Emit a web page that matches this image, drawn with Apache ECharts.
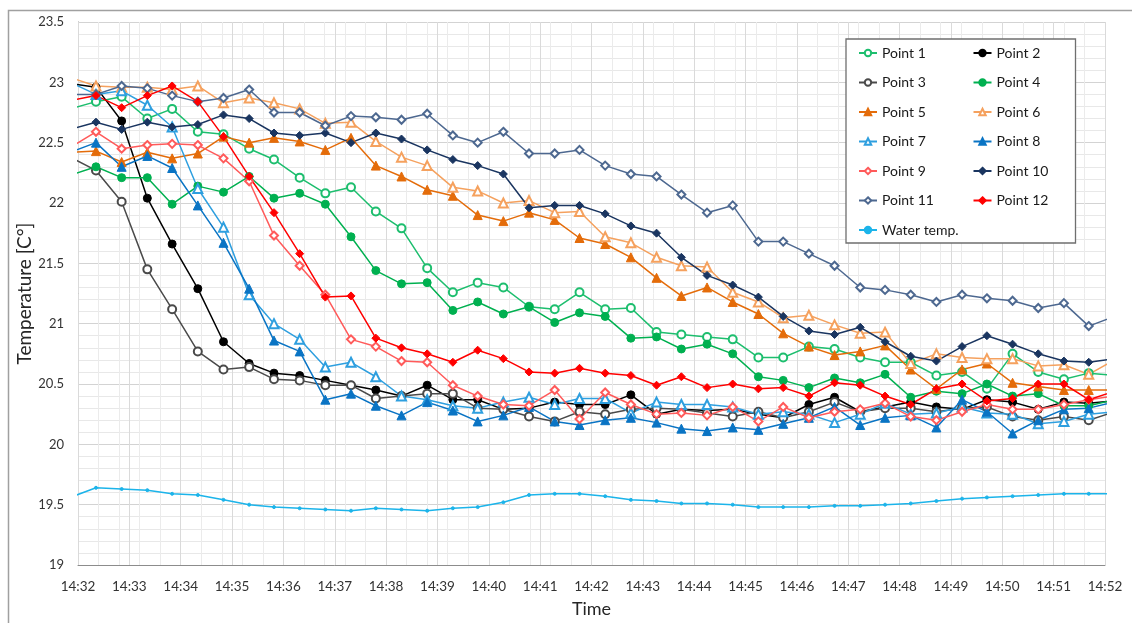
<!DOCTYPE html>
<html><head><meta charset="utf-8">
<script src="https://cdn.jsdelivr.net/npm/echarts@6/dist/echarts.min.js"></script>
<style>html,body{margin:0;padding:0;background:#fff}#c{width:1132px;height:623px}</style>
</head><body><div id="c"></div>
<script>
// sample times, seconds after 14:32:00 (first and last samples lie just outside the visible window)
const sampleSeconds = [-9, 21, 51, 81, 110, 140, 170, 200, 229, 259, 289, 319, 348, 378, 408, 438, 467, 497, 527, 557, 586, 616, 646, 676, 705, 735, 765, 795, 824, 854, 884, 914, 943, 973, 1003, 1033, 1062, 1092, 1122, 1152, 1181, 1211];
const timeLabels = ['14:32','14:33','14:34','14:35','14:36','14:37','14:38','14:39','14:40','14:41','14:42','14:43','14:44','14:45','14:46','14:47','14:48','14:49','14:50','14:51','14:52'];

const point1 = [22.78, 22.84, 22.88, 22.70, 22.78, 22.59, 22.57, 22.45, 22.36, 22.21, 22.08, 22.13, 21.93, 21.79, 21.46, 21.26, 21.34, 21.30, 21.14, 21.12, 21.26, 21.12, 21.13, 20.93, 20.91, 20.89, 20.87, 20.72, 20.72, 20.81, 20.79, 20.72, 20.68, 20.68, 20.57, 20.60, 20.46, 20.75, 20.60, 20.54, 20.59, 20.57];
const point2 = [22.99, 22.96, 22.68, 22.04, 21.66, 21.29, 20.85, 20.67, 20.59, 20.57, 20.53, 20.49, 20.45, 20.40, 20.49, 20.37, 20.37, 20.29, 20.30, 20.35, 20.33, 20.33, 20.41, 20.25, 20.29, 20.28, 20.29, 20.25, 20.22, 20.33, 20.39, 20.27, 20.31, 20.35, 20.31, 20.29, 20.37, 20.35, 20.29, 20.35, 20.34, 20.36];
const point3 = [22.38, 22.27, 22.01, 21.45, 21.12, 20.77, 20.62, 20.64, 20.54, 20.53, 20.49, 20.49, 20.38, 20.40, 20.42, 20.42, 20.30, 20.29, 20.23, 20.19, 20.27, 20.25, 20.29, 20.30, 20.29, 20.26, 20.23, 20.27, 20.22, 20.27, 20.35, 20.27, 20.30, 20.30, 20.27, 20.30, 20.31, 20.23, 20.20, 20.23, 20.20, 20.27];
const point4 = [22.23, 22.30, 22.21, 22.21, 21.99, 22.14, 22.09, 22.22, 22.04, 22.08, 21.99, 21.72, 21.44, 21.33, 21.34, 21.11, 21.18, 21.08, 21.14, 21.01, 21.09, 21.06, 20.88, 20.89, 20.79, 20.83, 20.75, 20.56, 20.53, 20.47, 20.55, 20.51, 20.58, 20.39, 20.44, 20.42, 20.50, 20.40, 20.42, 20.32, 20.32, 20.37];
const point5 = [22.42, 22.43, 22.34, 22.42, 22.37, 22.41, 22.55, 22.50, 22.54, 22.51, 22.44, 22.54, 22.31, 22.22, 22.11, 22.06, 21.90, 21.85, 21.92, 21.86, 21.71, 21.66, 21.55, 21.38, 21.23, 21.30, 21.18, 21.08, 20.92, 20.81, 20.74, 20.77, 20.82, 20.62, 20.46, 20.62, 20.67, 20.51, 20.48, 20.45, 20.45, 20.45];
const point6 = [23.04, 22.97, 22.96, 22.96, 22.94, 22.97, 22.83, 22.87, 22.83, 22.78, 22.66, 22.67, 22.51, 22.38, 22.31, 22.13, 22.10, 22.00, 22.02, 21.92, 21.93, 21.72, 21.67, 21.55, 21.48, 21.47, 21.26, 21.18, 21.05, 21.07, 20.99, 20.92, 20.93, 20.67, 20.75, 20.72, 20.71, 20.71, 20.65, 20.66, 20.58, 20.70];
const point7 = [23.00, 22.90, 22.93, 22.81, 22.63, 22.12, 21.80, 21.24, 21.00, 20.87, 20.64, 20.68, 20.56, 20.40, 20.37, 20.32, 20.30, 20.35, 20.39, 20.33, 20.38, 20.38, 20.26, 20.35, 20.33, 20.33, 20.31, 20.25, 20.27, 20.25, 20.18, 20.25, 20.34, 20.25, 20.26, 20.31, 20.26, 20.25, 20.17, 20.19, 20.25, 20.27];
const point8 = [22.42, 22.50, 22.30, 22.39, 22.29, 21.98, 21.67, 21.29, 20.86, 20.77, 20.37, 20.42, 20.32, 20.24, 20.35, 20.28, 20.19, 20.24, 20.31, 20.19, 20.16, 20.20, 20.22, 20.18, 20.13, 20.11, 20.14, 20.12, 20.17, 20.22, 20.31, 20.16, 20.22, 20.24, 20.14, 20.37, 20.27, 20.09, 20.20, 20.29, 20.30, 20.35];
const point9 = [22.46, 22.59, 22.45, 22.48, 22.49, 22.48, 22.37, 22.18, 21.73, 21.48, 21.24, 20.87, 20.81, 20.69, 20.68, 20.49, 20.40, 20.33, 20.32, 20.45, 20.21, 20.43, 20.33, 20.25, 20.26, 20.24, 20.31, 20.19, 20.31, 20.22, 20.27, 20.29, 20.34, 20.23, 20.20, 20.27, 20.33, 20.29, 20.29, 20.33, 20.37, 20.40];
const point10 = [22.61, 22.67, 22.61, 22.67, 22.63, 22.65, 22.73, 22.70, 22.58, 22.56, 22.58, 22.50, 22.58, 22.53, 22.44, 22.36, 22.31, 22.24, 21.96, 21.98, 21.98, 21.91, 21.81, 21.75, 21.55, 21.40, 21.32, 21.22, 21.06, 20.94, 20.91, 20.97, 20.85, 20.73, 20.69, 20.81, 20.90, 20.83, 20.75, 20.69, 20.68, 20.71];
const point11 = [22.90, 22.90, 22.97, 22.95, 22.89, 22.84, 22.87, 22.94, 22.75, 22.75, 22.64, 22.72, 22.71, 22.69, 22.74, 22.56, 22.50, 22.59, 22.41, 22.41, 22.44, 22.31, 22.24, 22.22, 22.07, 21.92, 21.98, 21.68, 21.68, 21.58, 21.48, 21.30, 21.28, 21.24, 21.18, 21.24, 21.21, 21.19, 21.13, 21.17, 20.98, 21.06];
const point12 = [22.85, 22.89, 22.79, 22.89, 22.97, 22.84, 22.55, 22.22, 21.92, 21.58, 21.22, 21.23, 20.88, 20.80, 20.75, 20.68, 20.78, 20.71, 20.60, 20.59, 20.63, 20.59, 20.57, 20.49, 20.56, 20.47, 20.50, 20.46, 20.47, 20.40, 20.51, 20.49, 20.40, 20.33, 20.46, 20.50, 20.36, 20.38, 20.50, 20.50, 20.37, 20.44];
const waterTemp = [19.56, 19.64, 19.63, 19.62, 19.59, 19.58, 19.54, 19.50, 19.48, 19.47, 19.46, 19.45, 19.47, 19.46, 19.45, 19.47, 19.48, 19.52, 19.58, 19.59, 19.59, 19.57, 19.54, 19.53, 19.51, 19.51, 19.50, 19.48, 19.48, 19.48, 19.49, 19.49, 19.50, 19.51, 19.53, 19.55, 19.56, 19.57, 19.58, 19.59, 19.59, 19.59];

const seriesDefs = [
  {name: 'Point 1', data: point1, color: '#1DBE6E', symbol: 'emptyCircle', size: 8},
  {name: 'Point 2', data: point2, color: '#000000', symbol: 'circle', size: 8},
  {name: 'Point 3', data: point3, color: '#4A4A4A', symbol: 'emptyCircle', size: 8},
  {name: 'Point 4', data: point4, color: '#00B050', symbol: 'circle', size: 8},
  {name: 'Point 5', data: point5, color: '#E46C0A', symbol: 'triangle', size: 9},
  {name: 'Point 6', data: point6, color: '#F5A15E', symbol: 'emptyTriangle', size: 9},
  {name: 'Point 7', data: point7, color: '#2E9FDF', symbol: 'emptyTriangle', size: 9},
  {name: 'Point 8', data: point8, color: '#0A74C4', symbol: 'triangle', size: 9},
  {name: 'Point 9', data: point9, color: '#FF5A5A', symbol: 'emptyDiamond', size: 8},
  {name: 'Point 10', data: point10, color: '#1A3560', symbol: 'diamond', size: 8},
  {name: 'Point 11', data: point11, color: '#4D6890', symbol: 'emptyDiamond', size: 8},
  {name: 'Point 12', data: point12, color: '#FF0000', symbol: 'diamond', size: 8},
  {name: 'Water temp.', data: waterTemp, color: '#1CB4EA', symbol: 'circle', size: 3}
];

const FONT = 'Lato, "Noto Sans", sans-serif';
const chart = echarts.init(document.getElementById('c'), null, {renderer: 'canvas'});
chart.setOption({
  animation: false,
  backgroundColor: '#ffffff',
  graphic: [{
    type: 'rect', left: 6, top: 8, silent: true, z: -10,
    shape: {width: 1160, height: 700},
    style: {fill: 'none', stroke: '#a0a0a0', lineWidth: 1.5}
  }],
  grid: {left: 78, right: 27, top: 22, bottom: 53, containLabel: false},
  legend: {
    left: 846, top: 39, width: 230, orient: 'horizontal',
    itemWidth: 18, itemHeight: 8, itemGap: 13.5,
    padding: [6, 2, 5, 12],
    backgroundColor: '#ffffff', borderColor: '#6f6f6f', borderWidth: 1.3,
    textStyle: {fontFamily: FONT, fontSize: 14, color: '#1a1a1a', width: 77, lineHeight: 16},
    data: seriesDefs.map(d => d.name)
  },
  xAxis: [{
    type: 'value', min: 0, max: 1200, interval: 60, z: 2,
    axisLine: {show: true, onZero: false, lineStyle: {color: '#8c8c8c', width: 1}},
    axisTick: {show: false},
    axisLabel: {formatter: v => timeLabels[Math.round(v / 60)], color: '#333333', fontSize: 13.5, margin: 15, fontFamily: FONT},
    splitLine: {show: true, lineStyle: {color: '#dadada', width: 1}},
    name: 'Time', nameLocation: 'middle', nameGap: 35, nameMoveOverlap: false,
    nameTextStyle: {fontFamily: FONT, fontSize: 18, color: '#262626'}
  }, {
    type: 'value', min: 0, max: 1200, interval: 24, z: 0, position: 'bottom',
    axisLine: {show: false}, axisTick: {show: false}, axisLabel: {show: false},
    splitLine: {show: true, lineStyle: {color: '#ebebeb', width: 1}}
  }],
  yAxis: {
    type: 'value', min: 19, max: 23.5, interval: 0.5,
    axisLine: {show: true, lineStyle: {color: '#8c8c8c', width: 1}},
    axisTick: {show: false},
    axisLabel: {color: '#333333', fontSize: 13, margin: 14, fontFamily: FONT},
    splitLine: {show: true, lineStyle: {color: '#d3d3d3', width: 1}},
    minorTick: {show: false, splitNumber: 5},
    minorSplitLine: {show: true, lineStyle: {color: '#e8e8e8', width: 1}},
    name: 'Temperature [C°]', nameLocation: 'middle', nameGap: 44, nameRotate: 90, nameMoveOverlap: false,
    nameTextStyle: {fontFamily: FONT, fontSize: 19, color: '#262626'}
  },
  series: seriesDefs.map(d => ({
    name: d.name, type: 'line', xAxisIndex: 0,
    data: sampleSeconds.map((t, i) => [t, d.data[i]]),
    symbol: d.symbol, symbolSize: d.size, showAllSymbol: true,
    clip: true,
    lineStyle: {color: d.color, width: 1.5},
    itemStyle: {color: d.color, borderColor: d.color, borderWidth: 1},
    emphasis: {disabled: true}
  }))
});
</script></body></html>
